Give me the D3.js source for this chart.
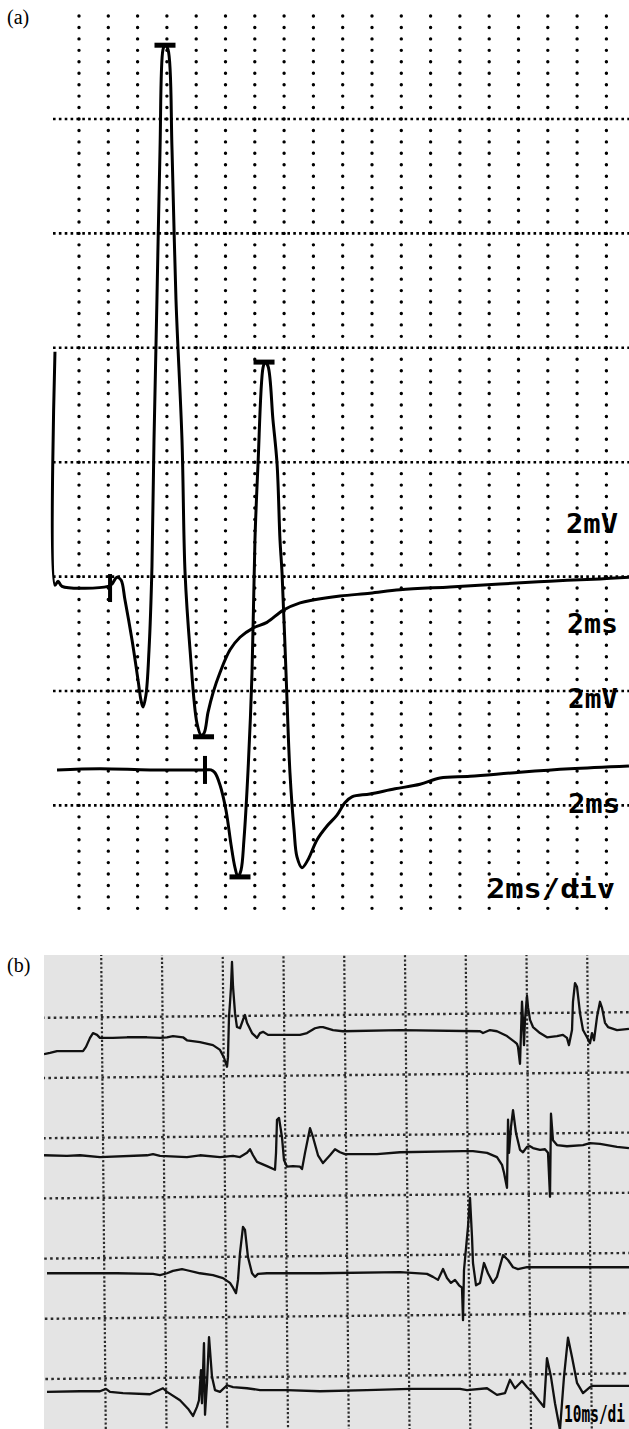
<!DOCTYPE html>
<html>
<head>
<meta charset="utf-8">
<script src="https://cdn.jsdelivr.net/npm/d3@7"></script>
<style>
body { margin: 0; background: #fff; }
svg { display: block; }
</style>
</head>
<body>
<script>
// panel (a): time in ms, amplitude in mV (read on the screen grid)
var traceA1 = [[-1.64,7.93],[-1.64,3.85],[-1.43,3.92],[-1.16,3.83],[1.98,3.83],[2.25,3.87],[2.59,3.99],[2.87,3.94],
	[3.14,3.59],[3.62,2.89],[4.03,2.19],[4.23,1.84],[4.37,1.72],[4.57,1.93],[4.78,2.72],[4.98,4.17],[5.12,6.39],
	[5.32,8.84],[5.53,11.46],[5.73,13.21],[5.87,13.30],[6.08,13.21],[6.35,11.46],[6.62,8.84],[7.03,6.39],[7.24,4.06],
	[7.58,2.72],[8.05,1.44],[8.33,1.23],[8.53,1.26],[8.81,1.63],[9.15,1.97],[9.62,2.32],[10.31,2.72],[10.99,2.94],
	[11.88,3.10],[12.83,3.20],[13.92,3.41],[15.09,3.54],[15.97,3.59],[17.82,3.66],[19.86,3.71],[21.91,3.77],
	[25.32,3.82],[28.74,3.87],[32.15,3.92],[35.56,3.96],[37.54,3.99]];
var traceA2 = [[-1.50,0.62],[1.43,0.64],[4.85,0.62],[8.60,0.62],[9.01,0.62],[9.28,0.57],[9.62,0.36],[10.03,-0.08],
	[10.38,-0.69],[10.65,-1.09],[10.85,-1.25],[11.06,-1.13],[11.26,-0.60],[11.54,0.62],[11.81,2.32],[12.01,4.64],
	[12.22,5.97],[12.56,7.65],[12.70,7.75],[12.90,7.68],[13.24,6.74],[13.52,5.97],[13.72,4.64],[13.86,4.06],
	[14.13,2.32],[14.40,0.57],[14.68,-0.43],[14.88,-0.90],[15.22,-1.09],[15.63,-0.95],[16.25,-0.60],[16.93,-0.36],
	[17.61,-0.17],[18.16,0.05],[18.63,0.15],[19.86,0.20],[21.57,0.29],[23.28,0.37],[24.64,0.48],[26.69,0.51],
	[30.10,0.58],[33.52,0.64],[37.54,0.69]];
var onsetTicksA = [[2.12,3.80],[8.60,0.62]];
var peakBarsA = [[5.87,13.29],[8.50,1.20],[10.99,-1.25],[12.63,7.75]];
var labelsA = ["2mV", "2ms", "2mV", "2ms", "2ms/div"];

// panel (b): time in ms, amplitude in grid divisions
var traceB1 = [[0.21,6.35],[1.19,6.37],[2.35,6.40],[6.63,6.40],[7.12,6.47],[7.78,6.62],[8.27,6.70],[8.93,6.67],
	[9.42,6.62],[11.56,6.62],[13.87,6.63],[17.16,6.63],[19.30,6.62],[20.45,6.63],[21.44,6.65],[23.09,6.63],
	[23.74,6.58],[25.88,6.55],[28.02,6.50],[29.18,6.42],[29.84,6.29],[30.33,6.14],[30.49,6.30],[30.66,6.97],
	[30.82,7.20],[30.99,7.47],[31.15,7.88],[31.32,7.47],[31.65,7.03],[31.97,6.80],[32.47,6.78],[32.96,6.92],
	[33.29,7.00],[33.62,6.87],[34.45,6.70],[35.27,6.62],[35.76,6.70],[36.26,6.72],[37.08,6.67],[39.55,6.67],
	[42.35,6.67],[43.50,6.70],[44.81,6.78],[45.64,6.80],[46.13,6.80],[47.78,6.75],[49.42,6.73],[58.81,6.75],
	[71.98,6.73],[72.47,6.70],[73.62,6.75],[74.77,6.73],[76.42,6.65],[77.73,6.55],[78.06,6.52],[78.23,6.47],
	[78.56,6.19],[78.72,6.70],[78.89,7.22],[79.05,6.92],[79.22,6.50],[79.38,6.92],[79.71,7.32],[79.88,7.13],
	[80.21,6.92],[80.70,6.80],[81.85,6.70],[83.00,6.63],[84.65,6.65],[85.63,6.67],[86.29,6.62],[86.62,6.50],
	[87.12,6.75],[87.28,7.22],[87.61,7.53],[87.94,7.47],[88.44,7.03],[88.93,6.75],[89.59,6.63],[90.08,6.53],
	[90.41,6.70],[90.74,6.58],[91.24,6.97],[91.73,7.22],[92.06,7.12],[92.55,6.87],[93.05,6.80],[94.53,6.75],
	[96.50,6.77]];
var traceB2 = [[0.21,4.67],[3.99,4.66],[6.13,4.67],[9.42,4.64],[17.16,4.67],[18.15,4.69],[19.30,4.66],[23.74,4.64],
	[25.88,4.67],[29.18,4.64],[31.32,4.66],[32.47,4.64],[33.62,4.71],[34.12,4.77],[34.61,4.67],[35.27,4.56],
	[36.91,4.49],[38.23,4.43],[38.40,4.71],[38.56,5.26],[38.89,5.29],[39.38,4.97],[39.71,4.59],[40.21,4.48],
	[41.19,4.49],[42.35,4.48],[42.68,4.44],[43.17,4.71],[43.99,5.12],[44.49,4.97],[45.31,4.67],[46.13,4.54],
	[47.28,4.67],[48.11,4.77],[48.93,4.72],[49.75,4.69],[55.02,4.69],[58.81,4.72],[69.18,4.74],[70.82,4.74],
	[73.13,4.71],[74.77,4.64],[75.60,4.51],[75.93,4.38],[76.26,4.21],[76.42,4.13],[76.59,5.26],[76.75,4.71],
	[77.08,5.14],[77.41,5.42],[77.90,5.04],[78.56,4.76],[79.05,4.72],[79.71,4.81],[80.21,4.82],[80.70,4.79],
	[81.85,4.76],[82.67,4.77],[83.17,4.71],[83.50,3.98],[83.66,5.36],[83.99,4.92],[84.65,4.84],[86.29,4.82],
	[88.93,4.84],[90.08,4.87],[91.73,4.86],[94.53,4.81],[96.50,4.79]];
var traceB3 = [[0.70,2.71],[9.42,2.71],[12.22,2.71],[18.15,2.70],[19.30,2.68],[20.45,2.71],[21.44,2.75],[22.92,2.78],
	[23.74,2.76],[25.88,2.71],[28.02,2.68],[29.67,2.63],[30.82,2.55],[31.32,2.47],[31.81,2.38],[32.14,2.60],
	[32.47,3.05],[32.96,3.48],[33.29,3.43],[33.78,2.98],[34.45,2.71],[34.94,2.65],[35.43,2.70],[36.91,2.71],
	[45.64,2.71],[58.81,2.73],[63.25,2.70],[64.24,2.65],[65.06,2.60],[65.89,2.78],[66.54,2.63],[67.20,2.55],
	[67.86,2.60],[68.52,2.51],[69.01,2.47],[69.18,1.93],[69.34,2.76],[69.84,3.31],[70.00,3.48],[70.33,3.96],
	[70.66,3.31],[70.82,2.88],[71.32,2.51],[71.98,2.55],[72.63,2.88],[73.29,2.71],[74.12,2.55],[74.77,2.65],
	[75.76,3.01],[76.59,2.93],[77.41,2.81],[78.23,2.78],[79.71,2.81],[86.29,2.81],[96.50,2.81]];
var traceB4 = [[0.70,0.74],[6.13,0.75],[9.42,0.75],[10.41,0.79],[11.07,0.74],[13.21,0.72],[17.65,0.70],[19.79,0.80],
	[20.45,0.74],[22.59,0.60],[23.91,0.46],[24.73,0.34],[25.39,0.49],[25.72,0.60],[26.05,1.10],[26.21,0.55],
	[26.54,1.55],[26.71,0.36],[27.04,0.89],[27.37,1.65],[27.86,0.99],[28.35,0.77],[29.18,0.74],[30.33,0.85],
	[31.32,0.82],[33.62,0.80],[35.76,0.77],[40.21,0.77],[45.64,0.75],[53.37,0.77],[60.45,0.79],[68.68,0.79],
	[69.84,0.77],[73.13,0.80],[74.77,0.69],[76.09,0.72],[76.91,0.94],[77.73,0.80],[78.89,0.92],[79.71,0.82],
	[80.70,0.72],[81.85,0.57],[82.51,0.49],[83.00,1.30],[83.66,0.99],[84.32,0.55],[85.14,0.11],[85.80,0.99],
	[86.46,1.64],[87.12,1.32],[87.94,0.89],[88.93,0.72],[90.08,0.82],[90.58,0.84],[96.50,0.84]];
var labelB = "10ms/di";


var w = 629;
var h = 1429;

var svg = d3.select("body")
			.append("svg")
			.attr("width", w)
			.attr("height", h);

svg.append("rect")
	.attr("width", w)
	.attr("height", h)
	.attr("fill", "#fff");

// ---------- panel (a) ----------
var xA = d3.scaleLinear().domain([0, 36]).range([79, 606.4]);
var yA = d3.scaleLinear().domain([-2, 14]).range([919.8, 4.6]);

var gA = svg.append("g");

// column dots, one every 0.2 mV
gA.selectAll("line.col")
	.data(d3.range(0, 37, 2))
	.enter()
	.append("line")
	.attr("class", "col")
	.attr("x1", function(d){ return xA(d); })
	.attr("x2", function(d){ return xA(d); })
	.attr("y1", yA(13.8))
	.attr("y2", yA(-1.85))
	.attr("stroke", "#000")
	.attr("stroke-width", 3.4)
	.attr("stroke-linecap", "round")
	.attr("stroke-dasharray", "0 " + (yA(0) - yA(0.2)));

// dense dotted rows every 2 mV
gA.selectAll("line.row")
	.data(d3.range(0, 13, 2))
	.enter()
	.append("line")
	.attr("class", "row")
	.attr("x1", 53)
	.attr("x2", w)
	.attr("y1", function(d){ return yA(d); })
	.attr("y2", function(d){ return yA(d); })
	.attr("stroke", "#000")
	.attr("stroke-width", 2.6)
	.attr("stroke-dasharray", "2.6 3.26");

var lineA = d3.line()
	.x(function(d){ return xA(d[0]); })
	.y(function(d){ return yA(d[1]); })
	.curve(d3.curveCatmullRom.alpha(0.5));

[traceA1, traceA2].forEach(function(tr){
	gA.append("path")
		.attr("d", lineA(tr))
		.attr("fill", "none")
		.attr("stroke", "#000")
		.attr("stroke-width", 3)
		.attr("stroke-linejoin", "round");
});

gA.selectAll("rect.tick")
	.data(onsetTicksA)
	.enter()
	.append("rect")
	.attr("x", function(d){ return xA(d[0]) - 2; })
	.attr("y", function(d){ return yA(d[1]) - 14; })
	.attr("width", 4)
	.attr("height", 28)
	.attr("fill", "#000");

gA.selectAll("rect.bar")
	.data(peakBarsA)
	.enter()
	.append("rect")
	.attr("x", function(d){ return xA(d[0]) - 10.5; })
	.attr("y", function(d){ return yA(d[1]) - 2.5; })
	.attr("width", 21)
	.attr("height", 5)
	.attr("fill", "#000");

// scale labels on the right
var labelSpots = [[618, 4.94, 52], [618, 3.19, 51], [618, 1.88, 50], [620, 0.04, 52], [615, -1.44, 128]];
gA.selectAll("text.lab")
	.data(labelsA)
	.enter()
	.append("text")
	.attr("x", function(d, i){ return labelSpots[i][0] - labelSpots[i][2]; })
	.attr("y", function(d, i){ return yA(labelSpots[i][1]) + 10; })
	.attr("textLength", function(d, i){ return labelSpots[i][2]; })
	.attr("lengthAdjust", "spacingAndGlyphs")
	.attr("font-family", "DejaVu Sans Mono")
	.attr("font-weight", "bold")
	.attr("font-size", 27)
	.attr("fill", "#000")
	.text(function(d){ return d; });

svg.append("text")
	.attr("x", 7)
	.attr("y", 24)
	.attr("font-family", "Liberation Serif")
	.attr("font-size", 20)
	.text("(a)");

// ---------- panel (b) ----------
var xB = d3.scaleLinear().domain([0, 100]).range([42.75, 650.25]);
var yB = d3.scaleLinear().domain([0, 8]).range([1436.4, 954.8]);

svg.append("defs")
	.append("clipPath")
	.attr("id", "clipB")
	.append("rect")
	.attr("x", 44)
	.attr("y", 955)
	.attr("width", w - 44)
	.attr("height", h - 955);

svg.append("text")
	.attr("x", 7)
	.attr("y", 972)
	.attr("font-family", "Liberation Serif")
	.attr("font-size", 20)
	.text("(b)");

var gB = svg.append("g").attr("clip-path", "url(#clipB)");

gB.append("rect")
	.attr("x", 44)
	.attr("y", 955)
	.attr("width", w - 44)
	.attr("height", h - 955)
	.attr("fill", "#e4e4e4");

// the chart paper sits slightly rotated in the scan
var gridB = gB.append("g").attr("transform", "rotate(-0.55, 336, 1192)");

gridB.selectAll("line.col")
	.data(d3.range(10, 100, 10))
	.enter()
	.append("line")
	.attr("x1", function(d){ return xB(d); })
	.attr("x2", function(d){ return xB(d); })
	.attr("y1", 930)
	.attr("y2", 1450)
	.attr("stroke", "#2a2a2a")
	.attr("stroke-width", 2.2)
	.attr("stroke-dasharray", "2.2 2.1");

gridB.selectAll("line.row")
	.data(d3.range(1, 8))
	.enter()
	.append("line")
	.attr("x1", 20)
	.attr("x2", 660)
	.attr("y1", function(d){ return yB(d); })
	.attr("y2", function(d){ return yB(d); })
	.attr("stroke", "#2a2a2a")
	.attr("stroke-width", 2.4)
	.attr("stroke-dasharray", "2.6 3.3");

var lineB = d3.line()
	.x(function(d){ return xB(d[0]); })
	.y(function(d){ return yB(d[1]); });

[traceB1, traceB2, traceB3, traceB4].forEach(function(tr){
	gB.append("path")
		.attr("d", lineB(tr))
		.attr("fill", "none")
		.attr("stroke", "#111")
		.attr("stroke-width", 2.3)
		.attr("stroke-linejoin", "round");
});

// narrow bold label, squeezed horizontally like the printed one
svg.append("text")
	.attr("transform", "translate(564,1422) scale(0.63,1)")
	.attr("font-family", "DejaVu Sans Mono")
	.attr("font-weight", "bold")
	.attr("font-size", 23)
	.attr("fill", "#000")
	.text(labelB);
</script>
</body>
</html>
